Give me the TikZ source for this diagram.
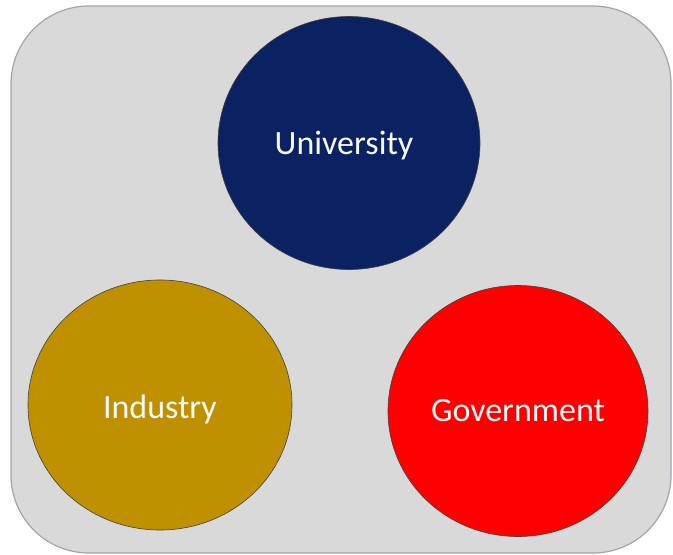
\documentclass[tikz,border=0pt]{standalone}
\usepackage{fontspec}
\setmainfont{Carlito}
\usetikzlibrary{shapes.geometric}
\definecolor{univblue}{RGB}{10,34,98}
\definecolor{indgold}{RGB}{191,144,0}
\definecolor{govred}{RGB}{255,0,0}
\definecolor{panelgray}{RGB}{217,217,217}
\definecolor{panelline}{RGB}{160,166,172}
\tikzset{sector/.style={ellipse, draw=black!75, line width=0.6pt, text=white!95!gray, inner sep=0pt, font=\fontsize{34}{38}\selectfont}}
\begin{document}
\begin{tikzpicture}[x=1pt,y=-1pt,line cap=round,line join=round]
\useasboundingbox (0,0) rectangle (673,555);

% panel
\draw[fill=panelgray, draw=panelline, line width=1.2pt, rounded corners=78pt] (11,6) rectangle (671,553);

% the three sectors
\node[sector, fill=univblue, minimum width=262pt, minimum height=253pt] (univ) at (349,143) {};
\node[sector, fill=indgold, minimum width=264pt, minimum height=250pt] (indus) at (160,405) {};
\node[sector, fill=govred, minimum width=260pt, minimum height=251pt] (govt) at (518,411) {};

% labels
\node[text=white!95!gray, font=\fontsize{34}{38}\selectfont] (univlbl) at (344,146) {University};
\node[text=white!95!gray, font=\fontsize{34}{38}\selectfont] (induslbl) at (160,409) {Industry};
\node[text=white!95!gray, font=\fontsize{34}{38}\selectfont] (govtlbl) at (518,411) {Government};

\end{tikzpicture}
\end{document}
